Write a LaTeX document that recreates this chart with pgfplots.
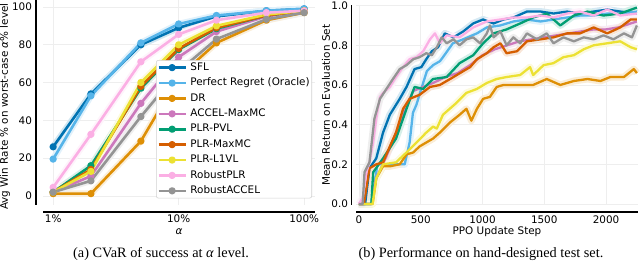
\documentclass[border=0pt]{standalone}
\usepackage{fontspec}
\setmainfont{DejaVu Sans}
\newfontfamily\capfont{Liberation Serif}
\usepackage{pgfplots}
\usepackage{pgfplotstable}
\pgfplotsset{compat=1.18}
\definecolor{c0}{HTML}{0173B2}
\definecolor{c1}{HTML}{56B4E9}
\definecolor{c2}{HTML}{DE8F05}
\definecolor{c3}{HTML}{CC78BC}
\definecolor{c4}{HTML}{029E73}
\definecolor{c5}{HTML}{D55E00}
\definecolor{c6}{HTML}{ECE133}
\definecolor{c7}{HTML}{FBAFE4}
\definecolor{c8}{HTML}{949494}
\newcommand{\tfont}{\fontsize{10.4bp}{12bp}\selectfont}
% ---- left: CVaR (alpha in %) ----
\pgfplotstableread[row sep=\\]{x y\\ 1 26\\ 2 54\\ 5 80\\ 10 89\\ 20 95\\ 50 98\\ 100 99\\}\La
\pgfplotstableread[row sep=\\]{x y\\ 1 19.5\\ 2 53\\ 5 81\\ 10 91\\ 20 95.5\\ 50 98\\ 100 99\\}\Lb
\pgfplotstableread[row sep=\\]{x y\\ 1 1.2\\ 2 1.2\\ 5 29\\ 10 63\\ 20 81\\ 50 93\\ 100 97\\}\Lc
\pgfplotstableread[row sep=\\]{x y\\ 1 2\\ 2 10.5\\ 5 49\\ 10 73.5\\ 20 87\\ 50 95\\ 100 98\\}\Ld
\pgfplotstableread[row sep=\\]{x y\\ 1 2\\ 2 16\\ 5 57\\ 10 77.5\\ 20 88.5\\ 50 95.5\\ 100 98\\}\Le
\pgfplotstableread[row sep=\\]{x y\\ 1 2\\ 2 14\\ 5 58\\ 10 78\\ 20 89\\ 50 95.5\\ 100 98\\}\Lf
\pgfplotstableread[row sep=\\]{x y\\ 1 2\\ 2 13\\ 5 60\\ 10 80\\ 20 90\\ 50 96\\ 100 98\\}\Lg
\pgfplotstableread[row sep=\\]{x y\\ 1 4.5\\ 2 32.6\\ 5 71\\ 10 85.5\\ 20 93\\ 50 97\\ 100 98\\}\Lh
\pgfplotstableread[row sep=\\]{x y\\ 1 2\\ 2 8\\ 5 42\\ 10 66\\ 20 83\\ 50 93.5\\ 100 97\\}\Li
% ---- right: return vs PPO step ----
\pgfplotstableread[row sep=\\]{x y\\ 0 0\\ 50 0\\ 85 0.18\\ 140 0.23\\ 195 0.36\\ 250 0.45\\ 330 0.53\\ 385 0.59\\ 450 0.68\\ 505 0.69\\ 545 0.73\\ 590 0.77\\ 640 0.79\\ 695 0.86\\ 765 0.84\\ 845 0.87\\ 925 0.91\\ 1005 0.93\\ 1090 0.91\\ 1170 0.93\\ 1250 0.94\\ 1360 0.97\\ 1470 0.97\\ 1575 0.96\\ 1685 0.97\\ 1790 0.96\\ 1900 0.97\\ 2010 0.98\\ 2115 0.97\\ 2250 0.96\\}\Ra
\pgfplotstableread[row sep=\\]{x y\\ 0 0\\ 100 0\\ 150 0.20\\ 200 0.20\\ 250 0.20\\ 300 0.20\\ 370 0.20\\ 410 0.31\\ 437 0.46\\ 465 0.50\\ 494 0.56\\ 550 0.67\\ 600 0.70\\ 656 0.72\\ 680 0.74\\ 760 0.81\\ 843 0.83\\ 955 0.86\\ 1035 0.89\\ 1145 0.90\\ 1250 0.92\\ 1360 0.93\\ 1470 0.92\\ 1575 0.93\\ 1685 0.94\\ 1790 0.95\\ 1900 0.95\\ 2010 0.96\\ 2115 0.96\\ 2250 0.97\\}\Rb
\pgfplotstableread[row sep=\\]{x y\\ 0 0\\ 110 0\\ 140 0.13\\ 195 0.19\\ 250 0.19\\ 330 0.20\\ 385 0.25\\ 440 0.26\\ 490 0.29\\ 545 0.31\\ 600 0.33\\ 655 0.36\\ 735 0.41\\ 815 0.45\\ 870 0.48\\ 910 0.42\\ 955 0.48\\ 1005 0.53\\ 1060 0.54\\ 1115 0.59\\ 1170 0.60\\ 1305 0.60\\ 1410 0.60\\ 1520 0.63\\ 1630 0.60\\ 1740 0.62\\ 1850 0.63\\ 1955 0.62\\ 2035 0.64\\ 2145 0.64\\ 2225 0.68\\ 2250 0.66\\}\Rc
\pgfplotstableread[row sep=\\]{x y\\ 0 0\\ 100 0\\ 140 0.13\\ 222 0.24\\ 300 0.36\\ 357 0.46\\ 440 0.57\\ 520 0.59\\ 600 0.61\\ 700 0.64\\ 800 0.66\\ 900 0.70\\ 1000 0.75\\ 1100 0.78\\ 1200 0.80\\ 1300 0.82\\ 1400 0.83\\ 1500 0.84\\ 1600 0.85\\ 1700 0.86\\ 1800 0.87\\ 1900 0.88\\ 2000 0.88\\ 2100 0.89\\ 2200 0.91\\ 2250 0.92\\}\Rd
\pgfplotstableread[row sep=\\]{x y\\ 0 0\\ 100 0\\ 115 0.16\\ 195 0.23\\ 300 0.33\\ 385 0.48\\ 450 0.59\\ 520 0.58\\ 600 0.63\\ 710 0.64\\ 815 0.71\\ 925 0.75\\ 1005 0.81\\ 1090 0.86\\ 1195 0.88\\ 1305 0.91\\ 1410 0.94\\ 1520 0.96\\ 1630 0.90\\ 1740 0.95\\ 1850 0.97\\ 1980 0.95\\ 2115 0.96\\ 2250 0.99\\}\Re
\pgfplotstableread[row sep=\\]{x y\\ 0 0\\ 40 0\\ 85 0.18\\ 140 0.20\\ 195 0.21\\ 250 0.29\\ 300 0.36\\ 357 0.48\\ 410 0.53\\ 490 0.55\\ 575 0.59\\ 655 0.60\\ 765 0.64\\ 845 0.67\\ 900 0.69\\ 955 0.73\\ 1035 0.76\\ 1090 0.79\\ 1145 0.81\\ 1195 0.76\\ 1280 0.77\\ 1360 0.82\\ 1470 0.83\\ 1575 0.84\\ 1685 0.86\\ 1790 0.86\\ 1900 0.89\\ 2010 0.86\\ 2115 0.89\\ 2200 0.93\\ 2250 0.93\\}\Rf
\pgfplotstableread[row sep=\\]{x y\\ 0 0\\ 110 0\\ 140 0.13\\ 195 0.20\\ 300 0.21\\ 385 0.26\\ 465 0.31\\ 545 0.36\\ 600 0.39\\ 630 0.38\\ 680 0.45\\ 735 0.48\\ 790 0.51\\ 870 0.56\\ 955 0.58\\ 1035 0.61\\ 1115 0.63\\ 1195 0.64\\ 1305 0.65\\ 1385 0.69\\ 1410 0.65\\ 1495 0.70\\ 1575 0.71\\ 1655 0.74\\ 1740 0.75\\ 1820 0.78\\ 1900 0.80\\ 2010 0.81\\ 2115 0.82\\ 2200 0.79\\ 2250 0.78\\}\Rg
\pgfplotstableread[row sep=\\]{x y\\ 0 0\\ 30 0.03\\ 60 0.16\\ 85 0.21\\ 115 0.31\\ 140 0.43\\ 170 0.54\\ 195 0.56\\ 250 0.59\\ 300 0.64\\ 357 0.69\\ 410 0.73\\ 465 0.74\\ 520 0.77\\ 575 0.83\\ 615 0.86\\ 655 0.81\\ 710 0.85\\ 815 0.84\\ 925 0.89\\ 1035 0.92\\ 1145 0.93\\ 1250 0.94\\ 1360 0.94\\ 1470 0.95\\ 1575 0.94\\ 1685 0.96\\ 1790 0.97\\ 1900 0.95\\ 2010 0.98\\ 2115 0.95\\ 2250 0.96\\}\Rh
\pgfplotstableread[row sep=\\]{x y\\ 0 0\\ 30 0\\ 45 0.16\\ 85 0.21\\ 125 0.43\\ 170 0.53\\ 222 0.58\\ 275 0.63\\ 330 0.68\\ 385 0.70\\ 440 0.73\\ 490 0.74\\ 545 0.76\\ 590 0.75\\ 630 0.79\\ 670 0.84\\ 710 0.81\\ 765 0.83\\ 815 0.80\\ 870 0.83\\ 925 0.84\\ 980 0.81\\ 1035 0.86\\ 1060 0.90\\ 1090 0.84\\ 1145 0.87\\ 1195 0.80\\ 1250 0.84\\ 1305 0.81\\ 1360 0.86\\ 1440 0.83\\ 1520 0.86\\ 1575 0.81\\ 1655 0.84\\ 1740 0.82\\ 1820 0.84\\ 1900 0.83\\ 1980 0.85\\ 2060 0.83\\ 2145 0.86\\ 2210 0.84\\ 2250 0.90\\}\Ri
\pgfplotsset{
  base/.style={scale only axis, clip=false,
    axis line style={draw=none}, major tick length=0pt, minor tick length=0pt,
    grid=major, major grid style={color=gray!13, line width=0.8bp},
    tick label style={font=\tfont}, /pgf/number format/assume math mode=true,
    /pgf/number format/1000 sep={}},
  lline/.style={line width=2.6bp, mark=*, mark size=2.3bp, mark options={solid}, line join=round},
  lband/.style={line width=6.5bp, forget plot, no marks, line join=round},
  rline/.style={line width=2.3bp, no marks, line join=round},
  rband/.style={line width=7bp, forget plot, no marks, line join=round},
}
\begin{document}
\begin{tikzpicture}
\useasboundingbox (0,0) rectangle (640bp,279bp);
% ---------------- left ----------------
\begin{axis}[base, name=L, at={(43bp,74bp)}, anchor=south west,
  width=272bp, height=205bp, xmode=log, xmin=0.83, xmax=122, ymin=-4.8, ymax=103.7,
  xtick={1,10,100}, xticklabels={1\%,10\%,100\%}, minor xtick={},
  ytick={0,20,40,60,80,100},
  yticklabel style={xshift=-7.5bp}, xticklabel style={yshift=-6.5bp},
  legend cell align=left,
  legend image code/.code={\draw[mark repeat=2,mark phase=2,#1] plot coordinates {(0bp,0bp)(13.5bp,0bp)(27bp,0bp)};},
  legend style={at={(0.989,0.707)}, anchor=north east, font=\tfont,
    draw=gray!35, line width=0.6bp, rounded corners=2bp, inner sep=1bp,
    nodes={inner sep=1bp, text height=8bp, text depth=2.5bp}, row sep=2.9bp,
    /tikz/every odd column/.style={column sep=2.5bp}},
]
\addplot[lband,c0!18] table {\La};
\addplot[lband,c1!18] table {\Lb};
\addplot[lband,c2!15] table {\Lc};
\addplot[lband,c3!15] table {\Ld};
\addplot[lband,c4!15] table {\Le};
\addplot[lband,c5!15] table {\Lf};
\addplot[lband,c6!15] table {\Lg};
\addplot[lband,c7!15] table {\Lh};
\addplot[lband,c8!15] table {\Li};
\addplot[lline,c0] table {\La}; \addlegendentry{SFL}
\addplot[lline,c1] table {\Lb}; \addlegendentry{Perfect Regret (Oracle)}
\addplot[lline,c2] table {\Lc}; \addlegendentry{DR}
\addplot[lline,c3] table {\Ld}; \addlegendentry{ACCEL-MaxMC}
\addplot[lline,c4] table {\Le}; \addlegendentry{PLR-PVL}
\addplot[lline,c5] table {\Lf}; \addlegendentry{PLR-MaxMC}
\addplot[lline,c6] table {\Lg}; \addlegendentry{PLR-L1VL}
\addplot[lline,c7] table {\Lh}; \addlegendentry{RobustPLR}
\addplot[lline,c8] table {\Li}; \addlegendentry{RobustACCEL}
\end{axis}
\draw[line width=1.6bp] ([xshift=-7bp]L.south west) -- ([xshift=-7bp]L.north west);
\draw[line width=1.6bp] ([yshift=-7bp]L.south west) -- ([yshift=-7bp]L.south east);
% ---------------- right ----------------
\begin{axis}[base, name=R, at={(356bp,74bp)}, anchor=south west,
  width=282bp, height=200bp, xmin=-24, xmax=2259, ymin=-0.005, ymax=1.003,
  xtick={0,500,1000,1500,2000}, ytick={0,0.2,0.4,0.6,0.8,1.0},
  yticklabel style={xshift=-4.5bp, /pgf/number format/.cd, fixed, fixed zerofill, precision=1},
  xticklabel style={yshift=-7bp},
]
\addplot[rband,c0!16] table {\Ra};
\addplot[rband,c1!16] table {\Rb};
\addplot[rband,c2!16] table {\Rc};
\addplot[rband,c3!16] table {\Rd};
\addplot[rband,c4!16] table {\Re};
\addplot[rband,c5!16] table {\Rf};
\addplot[rband,c6!16] table {\Rg};
\addplot[rband,c7!16] table {\Rh};
\addplot[rband,c8!16] table {\Ri};
\addplot[rline,c0] table {\Ra};
\addplot[rline,c1] table {\Rb};
\addplot[rline,c2] table {\Rc};
\addplot[rline,c3] table {\Rd};
\addplot[rline,c4] table {\Re};
\addplot[rline,c5] table {\Rf};
\addplot[rline,c6] table {\Rg};
\addplot[rline,c7] table {\Rh};
\addplot[rline,c8] table {\Ri};
\end{axis}
\draw[line width=1.6bp] ([xshift=-4.5bp]R.south west) -- ([xshift=-4.5bp]R.north west);
\draw[line width=1.6bp] ([yshift=-7bp]R.south west) -- ([yshift=-7bp]R.south east);
% ---------------- labels ----------------
\node[font=\tfont, rotate=90, anchor=west, inner sep=0pt] at (5bp,69bp) {Avg Win Rate \% on worst-case \textit{α}\% level};
\node[font=\tfont, rotate=90, anchor=west, inner sep=0pt] at (326bp,93bp) {Mean Return on Evaluation Set};
\node[font=\tfont, anchor=base, inner sep=0pt] at (179bp,44bp) {\textit{α}};
\node[font=\tfont, anchor=base, inner sep=0pt] at (497bp,44bp) {PPO Update Step};
\node[font=\capfont\fontsize{14.3bp}{17bp}\selectfont, anchor=base, inner sep=0pt] at (161bp,22bp) {(a) CVaR of success at \textit{α} level.};
\node[font=\capfont\fontsize{14.3bp}{17bp}\selectfont, anchor=base, inner sep=0pt] at (481bp,22bp) {(b) Performance on hand-designed test set.};
\end{tikzpicture}
\end{document}
